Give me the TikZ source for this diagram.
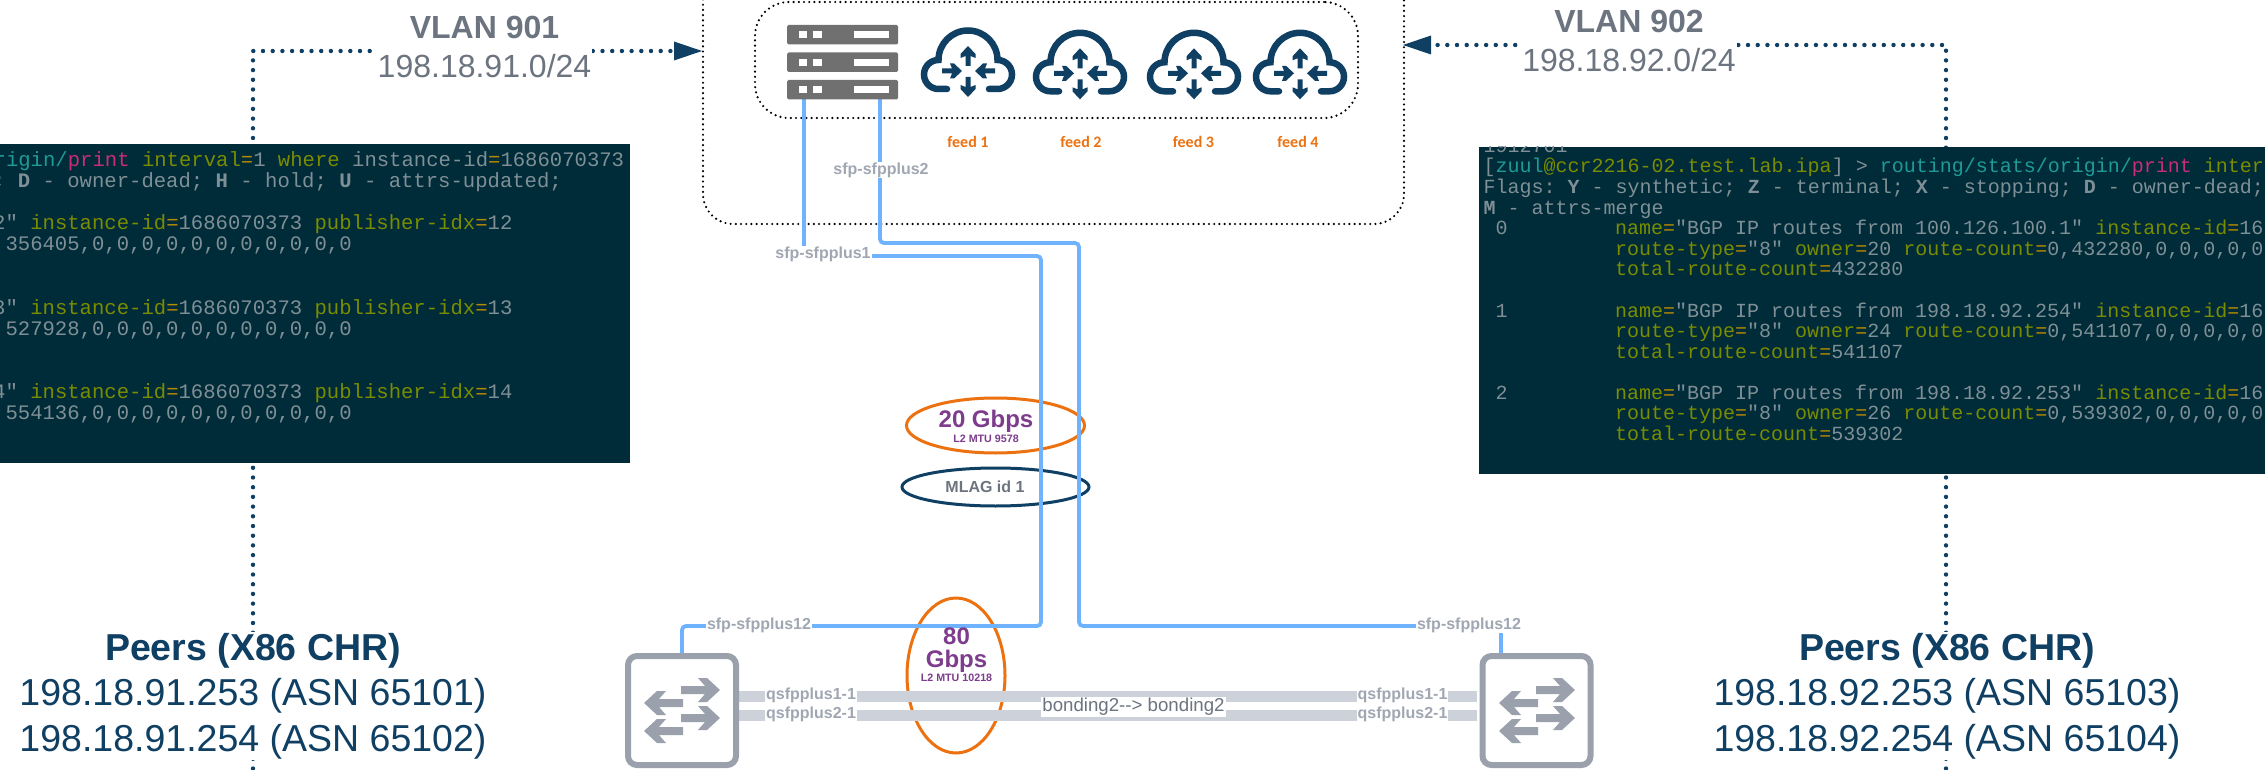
\documentclass[tikz,border=0pt]{standalone}
\usepackage{fontspec}
\setmainfont{Liberation Sans}
\newfontfamily\monofam{Liberation Mono}
\newfontfamily\feedfam{Carlito}
\usetikzlibrary{arrows.meta,shapes.geometric,backgrounds}
\definecolor{navy}{HTML}{0F3F63}
\definecolor{slategrey}{HTML}{6C7480}
\definecolor{lightlabel}{HTML}{A0A7B2}
\definecolor{linkblue}{HTML}{6FB3FF}
\definecolor{bandgrey}{HTML}{CDD2DA}
\definecolor{swgrey}{HTML}{9AA1AC}
\definecolor{orangeline}{HTML}{EC7211}
\definecolor{purpletxt}{HTML}{7D3C8C}
\definecolor{termbg}{HTML}{002B38}
\definecolor{tgrey}{HTML}{7F8F96}
\definecolor{tolive}{HTML}{7A8C00}
\definecolor{tteal}{HTML}{1F9A96}
\definecolor{tmag}{HTML}{C92D78}
\definecolor{torange}{HTML}{B58900}
\newcommand{\ol}[1]{\textcolor{tolive}{#1}}
\newcommand{\tl}[1]{\textcolor{tteal}{#1}}
\newcommand{\mg}[1]{\textcolor{tmag}{#1}}
\newcommand{\eqs}{\textcolor{torange}{=}}
\newcommand{\bd}[1]{{\bfseries #1}}
\newcounter{tn}
\newcommand{\ttxt}[4]{\stepcounter{tn}\node[termtxt,font=#1] (tl\the\value{tn}) at (#2,#3) {#4};}
\newcommand{\fL}{\monofam\fontsize{20.6}{21}\selectfont\frenchspacing}
\newcommand{\fR}{\monofam\fontsize{20}{21}\selectfont\frenchspacing}
\tikzset{
  x=1pt,y=1pt,
  termtxt/.style={anchor=base west,inner sep=0pt,text=tgrey},
  dotbig/.style={draw=navy,line width=4.4pt,line cap=round,dash pattern=on 0pt off 9.7pt},
  dotbox/.style={draw=black,line width=2.4pt,line cap=round,dash pattern=on 0pt off 5.2pt},
  bluelink/.style={draw=linkblue,line width=3.8pt,rounded corners=4pt},
  band/.style={draw=bandgrey,line width=11pt},
  smalllabel/.style={fill=white,inner sep=1pt,text=lightlabel,font=\bfseries\fontsize{16}{18}\selectfont},
  vlanlabel/.style={fill=white,inner sep=1pt,text=slategrey,align=center,font=\fontsize{32}{39}\selectfont},
  peerlabel/.style={fill=white,inner sep=1pt,text=navy,align=center,font=\fontsize{37.5}{45.5}\selectfont},
  feedlabel/.style={inner sep=0pt,text=orangeline,font=\feedfam\bfseries\fontsize{16}{18}\selectfont},
  switchbox/.style={draw=swgrey,line width=6pt,rounded corners=9pt,fill=white,minimum width=108pt,minimum height=109pt,inner sep=0pt,outer sep=0pt},
  cloudicon/.pic={
    \draw[navy,line width=6.5pt,line cap=round]
      (-21,-29) -- (-29.5,-29) arc[start angle=270,end angle=90,radius=14.5pt]
      arc[start angle=180,end angle=0,radius=29.5pt]
      arc[start angle=90,end angle=-90,radius=14.5pt] -- (21,-29);
    \foreach \sx/\sy/\rr in {0/-6/90,0/-17/-90,-26/-11/0,27/-11/180}{
      \fill[navy,shift={(\sx,\sy)},rotate=\rr]
        (0,-2.5) -- (10,-2.5) -- (8,-7.5) -- (12,-7.5) -- (20,0) -- (12,7.5) -- (8,7.5) -- (10,2.5) -- (0,2.5) -- cycle;
    }
  },
  switcharrows/.pic={
    \foreach \sy in {0,28}{
      \fill[swgrey,shift={(0,-\sy)}]
        (0,4) -- (24,4) -- (17,12) -- (26,12) -- (39,0) -- (26,-12) -- (17,-12) -- (24,-4) -- (0,-4) -- cycle;
      \fill[swgrey,shift={(2,-13-\sy)}]
        (0,4) -- (-24,4) -- (-17,12) -- (-26,12) -- (-39,0) -- (-26,-12) -- (-17,-12) -- (-24,-4) -- (0,-4) -- cycle;
    }
  }
}
\begin{document}
\begin{tikzpicture}
\useasboundingbox (0,0) rectangle (2265,-770);
\clip (0,0) rectangle (2265,-770);

% named end points
\coordinate (srvA) at (804,-99);
\coordinate (srvB) at (880,-99);
\coordinate (botL) at (253,-768.5);
\coordinate (botR) at (1946,-768.5);
\coordinate (boxW) at (702,-51);
\coordinate (boxE) at (1403,-45);

% terminals
\node[fill=termbg,inner sep=0pt,minimum width=660pt,minimum height=319pt] (termL) at (300,-303.5) {};
\node[fill=termbg,inner sep=0pt,minimum width=786pt,minimum height=327pt] (termR) at (1872,-310.5) {};

\begin{scope}
\clip (0,-144) rectangle (630,-463);
\ttxt{\fL}{-18.9}{-166.5}{\tl{origin/}\mg{print} \ol{interval}\eqs 1 \ol{where} instance-id\eqs 1686070373}
\ttxt{\fL}{-7}{-187.6}{; \bd{D} - owner-dead; \bd{H} - hold; \bd{U} - attrs-updated;}
\ttxt{\fL}{-7}{-229.8}{2" \ol{instance-id}\eqs 1686070373 \ol{publisher-idx}\eqs 12}
\ttxt{\fL}{-7}{-250.9}{,356405,0,0,0,0,0,0,0,0,0,0,0}
\ttxt{\fL}{-7}{-314.2}{3" \ol{instance-id}\eqs 1686070373 \ol{publisher-idx}\eqs 13}
\ttxt{\fL}{-7}{-335.3}{,527928,0,0,0,0,0,0,0,0,0,0,0}
\ttxt{\fL}{-7}{-398.6}{4" \ol{instance-id}\eqs 1686070373 \ol{publisher-idx}\eqs 14}
\ttxt{\fL}{-7}{-419.7}{,554136,0,0,0,0,0,0,0,0,0,0,0}
\end{scope}

\begin{scope}
\clip (1479,-147) rectangle (2265,-474);
\ttxt{\fR}{1483.5}{-152.5}{1912701}
\ttxt{\fR}{1483.5}{-173}{[\tl{zuul}\ol{@ccr2216-02.test.lab.ipa}] > \tl{routing/stats/origin/}\mg{print} \ol{inter}}
\ttxt{\fR}{1483.5}{-193.6}{Flags: \bd{Y} - synthetic; \bd{Z} - terminal; \bd{X} - stopping; \bd{D} - owner-dead;}
\ttxt{\fR}{1483.5}{-214.1}{\bd{M} - attrs-merge}
\ttxt{\fR}{1495.5}{-234.7}{0}
\ttxt{\fR}{1615}{-234.7}{\ol{name}\eqs"BGP IP routes from 100.126.100.1" \ol{instance-id}\eqs 16}
\ttxt{\fR}{1615}{-255.2}{\ol{route-type}\eqs"8" \ol{owner}\eqs 20 \ol{route-count}\eqs 0,432280,0,0,0,0,0}
\ttxt{\fR}{1615}{-275.8}{\ol{total-route-count}\eqs 432280}
\ttxt{\fR}{1495.5}{-317}{1}
\ttxt{\fR}{1615}{-317}{\ol{name}\eqs"BGP IP routes from 198.18.92.254" \ol{instance-id}\eqs 16}
\ttxt{\fR}{1615}{-337.5}{\ol{route-type}\eqs"8" \ol{owner}\eqs 24 \ol{route-count}\eqs 0,541107,0,0,0,0,0}
\ttxt{\fR}{1615}{-358}{\ol{total-route-count}\eqs 541107}
\ttxt{\fR}{1495.5}{-399.2}{2}
\ttxt{\fR}{1615}{-399.2}{\ol{name}\eqs"BGP IP routes from 198.18.92.253" \ol{instance-id}\eqs 16}
\ttxt{\fR}{1615}{-419.7}{\ol{route-type}\eqs"8" \ol{owner}\eqs 26 \ol{route-count}\eqs 0,539302,0,0,0,0,0}
\ttxt{\fR}{1615}{-440.3}{\ol{total-route-count}\eqs 539302}
\end{scope}

% server
\node[inner sep=0pt,minimum width=111pt,minimum height=74pt] (srv) at (842.5,-62) {};
\foreach \yy in {25,52.5,80}{
  \fill[fill=black!56,rounded corners=1.5pt] (787,-\yy) rectangle (898,-\yy-19.5);
  \fill[white] (799,-\yy-6.5) rectangle (807,-\yy-13.5);
  \fill[white] (813,-\yy-6.5) rectangle (821.5,-\yy-13.5);
  \fill[white] (854,-\yy-6.5) rectangle (889,-\yy-13.5);
}
% clouds
\pic at (968,-60) {cloudicon};
\pic at (1080,-62.3) {cloudicon};
\pic at (1194,-62.3) {cloudicon};
\pic at (1300,-62.3) {cloudicon};
\node[feedlabel] (f1) at (968,-142) {feed 1};
\node[feedlabel] (f2) at (1081,-142) {feed 2};
\node[feedlabel] (f3) at (1193.5,-142) {feed 3};
\node[feedlabel] (f4) at (1298,-142) {feed 4};

% switches
\node[switchbox] (sw1) at (682,-710.5) {};
\node[switchbox] (sw2) at (1536.5,-710.5) {};
\pic at (681,-690) {switcharrows};
\pic at (1536,-690) {switcharrows};

% labels
\node[vlanlabel] (vlanA) at (484.5,-46.5) {\bfseries VLAN 901\\198.18.91.0/24};
\node[vlanlabel] (vlanB) at (1629,-40.5) {\bfseries VLAN 902\\198.18.92.0/24};
\node[peerlabel] (peerA) at (253,-696) {\bfseries Peers (X86 CHR)\\198.18.91.253 (ASN 65101)\\198.18.91.254 (ASN 65102)};
\node[peerlabel] (peerB) at (1947,-696) {\bfseries Peers (X86 CHR)\\198.18.92.253 (ASN 65103)\\198.18.92.254 (ASN 65104)};
\node[smalllabel] (lbS2) at (881,-170) {sfp-sfpplus2};
\node[smalllabel] (lbS1) at (823,-254) {sfp-sfpplus1};
\node[smalllabel] (lb12a) at (759,-625) {sfp-sfpplus12};
\node[smalllabel] (lb12b) at (1469,-625) {sfp-sfpplus12};
\node[smalllabel] (q1a) at (811,-695) {qsfpplus1-1};
\node[smalllabel] (q2a) at (811,-714) {qsfpplus2-1};
\node[smalllabel] (q1b) at (1402.5,-695) {qsfpplus1-1};
\node[smalllabel] (q2b) at (1402.5,-714) {qsfpplus2-1};
\node[fill=white,inner sep=1pt,text=slategrey,font=\fontsize{18.67}{20}\selectfont] (bond) at (1133.5,-707) {bonding2-{}-{}> bonding2};
\node[inner sep=0pt,text=purpletxt,font=\bfseries\fontsize{24}{26}\selectfont] (t20) at (986,-421) {20 Gbps};
\node[inner sep=0pt,text=purpletxt,font=\bfseries\fontsize{10.7}{12}\selectfont] (t20b) at (986,-439) {L2 MTU 9578};
\node[inner sep=0pt,text=slategrey,font=\bfseries\fontsize{16}{18}\selectfont] (tmlag) at (985,-487) {MLAG id 1};
\node[inner sep=0pt,text=purpletxt,font=\bfseries\fontsize{24}{24}\selectfont] (t80) at (956.5,-636) {80};
\node[inner sep=0pt,text=purpletxt,font=\bfseries\fontsize{24}{24}\selectfont] (t80g) at (956.5,-661) {Gbps};
\node[inner sep=0pt,text=purpletxt,font=\bfseries\fontsize{10.7}{12}\selectfont] (t80b) at (956.5,-678) {L2 MTU 10218};

\begin{scope}[on background layer]
  \fill[white] (0,0) rectangle (2265,-770);
  % dotted boxes
  \node[draw,dotbox,rounded corners=30pt,minimum width=701pt,minimum height=284pt,inner sep=0pt] (outer) at (703.5+350,-224+142) {};
  \node[draw,dotbox,rounded corners=34pt,minimum width=603pt,minimum height=116pt,inner sep=0pt] (inner) at (1056.5,-60) {};
  % ellipses
  \node[ellipse,draw=orangeline,line width=3pt,minimum width=178pt,minimum height=55pt,inner sep=0pt] (e20) at (995.5,-425.5) {};
  \node[ellipse,draw=navy,line width=3pt,minimum width=187pt,minimum height=38pt,inner sep=0pt] (emlag) at (995.5,-487) {};
  \node[ellipse,draw=orangeline,line width=3pt,minimum width=98pt,minimum height=155pt,inner sep=0pt] (e80) at (956,-675.5) {};
  % bonds
  \draw[band] (sw1.east |- q1a) ++(0,-1.7) -- ++(741,0);
  \draw[band] (sw1.east |- q2a) ++(0,-1.7) -- ++(741,0);
  % fibre links
  \draw[bluelink] (srvA) |- (1041,-256) -- (1041,-626) -| (sw1.north);
  \draw[bluelink] (srvB) |- (1079,-243) |- (1501,-626) -- (1501,-655);
  % VLAN dotted connectors
  \draw[dotbig] (botL) -- (253,-51) -- (674,-51);
  \fill[navy] (boxW) -- (674,-41.5) -- (674,-60.5) -- cycle;
  \draw[dotbig] (botR) -- (1946,-45) -- (1431,-45);
  \fill[navy] (boxE) -- (1431,-35.5) -- (1431,-54.5) -- cycle;
\end{scope}
\end{tikzpicture}
\end{document}
